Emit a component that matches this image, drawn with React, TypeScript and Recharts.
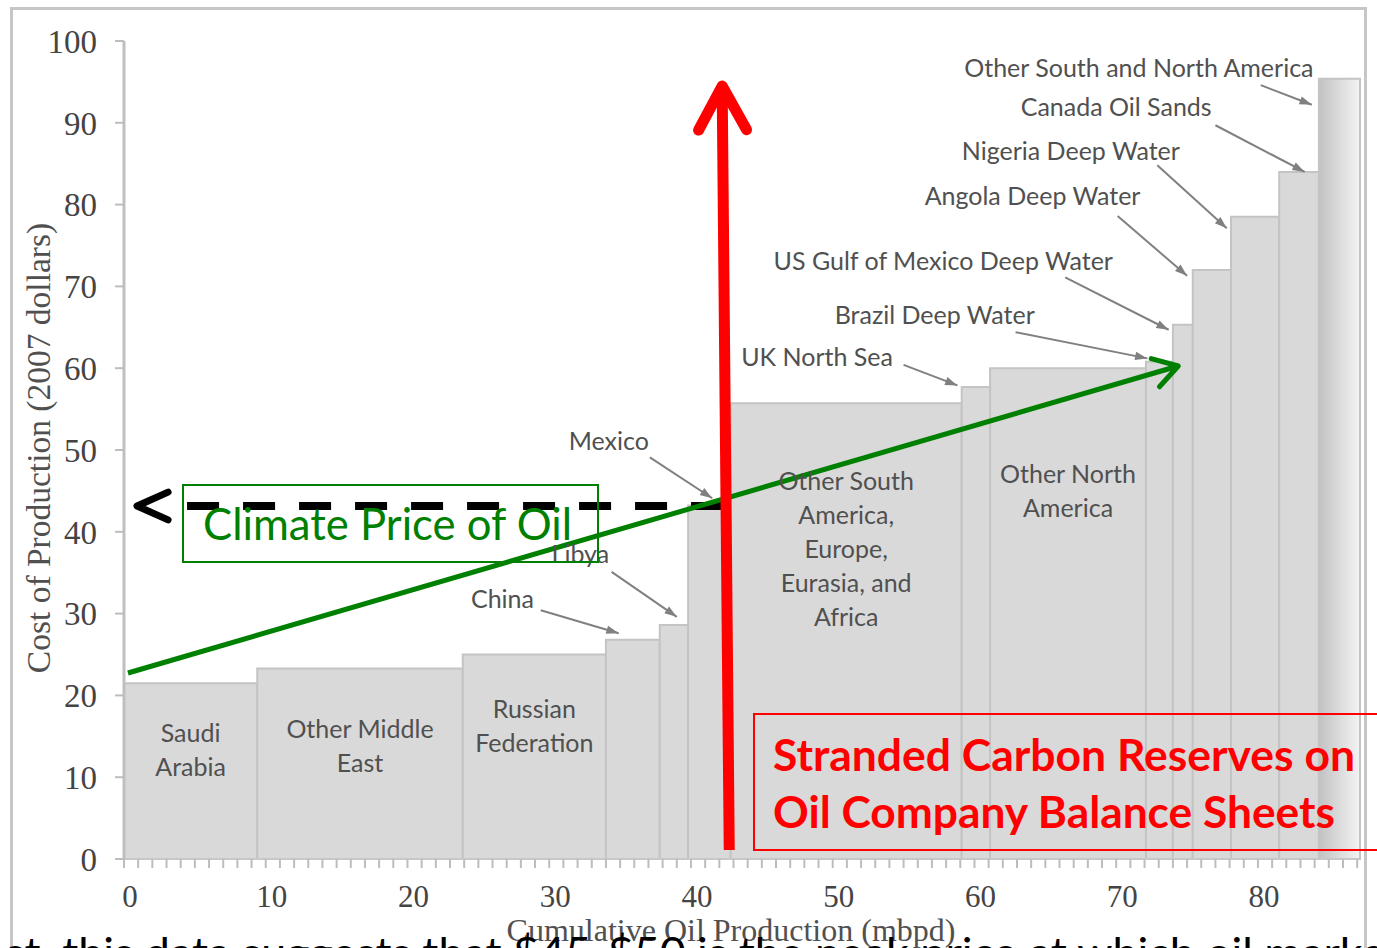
import { ComposedChart, XAxis, YAxis, Line, ReferenceArea, ReferenceLine, ReferenceDot } from 'recharts';

// #region Data
const producers = [
  'Saudi Arabia',
  'Other Middle East',
  'Russian Federation',
  'China',
  'Libya',
  'Mexico',
  'Other South America, Europe, Eurasia, and Africa',
  'UK North Sea',
  'Other North America',
  'Brazil Deep Water',
  'US Gulf of Mexico Deep Water',
  'Angola Deep Water',
  'Nigeria Deep Water',
  'Canada Oil Sands',
  'Other South and North America',
];
// production of each block, mbpd
const volumes = [9.4, 14.5, 10.1, 3.8, 2.0, 3.0, 16.3, 2.0, 11.0, 1.9, 1.4, 2.7, 3.4, 2.8, 2.9];
// cost of production, 2007 dollars
const costs = [21.5, 23.3, 25.0, 26.8, 28.6, 43.2, 55.7, 57.7, 60.0, 60.8, 65.3, 72.0, 78.5, 84.0, 95.4];

const yTicks = [0, 10, 20, 30, 40, 50, 60, 70, 80, 90, 100];
const xTicks = Array.from({ length: 88 }, (_, i) => i);

const climatePrice = 43.15;
// #endregion

const blocks = producers.map((name, i) => {
  const start = volumes.slice(0, i).reduce((a, b) => a + b, 0);
  return { name, start, end: start + volumes[i], x: start + volumes[i] / 2, cost: costs[i] };
});

// labels printed inside the wide blocks: [block index, lines, label height]
const blockLabels: [number, string[], number][] = [
  [0, ['Saudi', 'Arabia'], 13.4],
  [1, ['Other Middle', 'East'], 13.9],
  [2, ['Russian', 'Federation'], 16.4],
  [6, ['Other South', 'America,', 'Europe,', 'Eurasia, and', 'Africa'], 38.0],
  [8, ['Other North', 'America'], 45.1],
];

// callouts for the narrow blocks: text spot, arrow start, arrow tip
const callouts = [
  { label: 'Other South and North America', at: [71.6, 96.8], from: [80.2, 94.6], to: [83.8, 92.2] },
  { label: 'Canada Oil Sands', at: [70.0, 92.1], from: [77.0, 89.7], to: [83.3, 84.0] },
  { label: 'Nigeria Deep Water', at: [66.8, 86.7], from: [72.9, 84.8], to: [77.8, 77.1] },
  { label: 'Angola Deep Water', at: [64.1, 81.2], from: [70.1, 78.6], to: [75.0, 71.3] },
  { label: 'US Gulf of Mexico Deep Water', at: [57.8, 73.2], from: [66.4, 71.1], to: [73.7, 64.7] },
  { label: 'Brazil Deep Water', at: [57.2, 66.6], from: [62.9, 64.4], to: [72.2, 61.2] },
  { label: 'UK North Sea', at: [48.9, 61.5], from: [55.0, 60.4], to: [58.8, 57.9] },
  { label: 'Mexico', at: [34.2, 51.2], from: [37.1, 49.1], to: [41.5, 44.1] },
  { label: 'Libya', at: [32.2, 37.4], from: [34.4, 35.1], to: [39.0, 29.6] },
  { label: 'China', at: [26.7, 31.9], from: [29.4, 30.4], to: [34.9, 27.6] },
];

const SANS = 'Lato, "Open Sans", sans-serif';
const SERIF = '"Liberation Serif", "DejaVu Serif", serif';
const TEXT_GREY = '#505050';

type ArrowOpts = {
  color: string;
  width: number;
  head: number;
  spread: number;
  shaft?: boolean;
  filled?: boolean;
};

const arrowShape = ({ color, width, head, spread, shaft = true, filled = false }: ArrowOpts) =>
  (p: any) => {
    const { x1, y1, x2, y2 } = p;
    const ang = Math.atan2(y2 - y1, x2 - x1);
    const ax = x2 - head * Math.cos(ang - spread);
    const ay = y2 - head * Math.sin(ang - spread);
    const bx = x2 - head * Math.cos(ang + spread);
    const by = y2 - head * Math.sin(ang + spread);
    const pts = `${ax},${ay} ${x2},${y2} ${bx},${by}`;
    return (
      <g>
        {shaft && <line x1={x1} y1={y1} x2={x2} y2={y2} stroke={color} strokeWidth={width} />}
        {filled ? (
          <polygon points={pts} fill={color} />
        ) : (
          <polyline
            points={pts}
            fill="none"
            stroke={color}
            strokeWidth={width}
            strokeLinecap="round"
            strokeLinejoin="round"
          />
        )}
      </g>
    );
  };

const multiLine = (lines: string[]) => (p: any) => {
  const step = 34;
  const top = p.cy - ((lines.length - 1) * step) / 2;
  return (
    <text x={p.cx} textAnchor="middle" fontFamily={SANS} fontSize={25} fill={TEXT_GREY}>
      {lines.map((l, i) => (
        <tspan key={i} x={p.cx} y={top + i * step} dominantBaseline="central">
          {l}
        </tspan>
      ))}
    </text>
  );
};

export default function App() {
  return (
    <div
      style={{
        position: 'absolute',
        left: 0,
        top: 0,
        width: 1377,
        height: 948,
        overflow: 'hidden',
        background: '#fff',
      }}
    >
      <div
        style={{
          position: 'absolute',
          left: 10,
          top: 7,
          width: 1357,
          height: 1000,
          boxSizing: 'border-box',
          border: '3px solid #c6c6c6',
        }}
      />
      <div style={{ position: 'absolute', left: 0, top: 0 }}>
        <ComposedChart
          width={1377}
          height={948}
          data={blocks}
          margin={{ top: 41, right: 17, bottom: 0, left: 14 }}
        >
          <defs>
            <linearGradient id="lastBlock" x1="0" y1="0" x2="1" y2="0">
              <stop offset="0%" stopColor="#c2c2c2" />
              <stop offset="100%" stopColor="#f4f4f4" />
            </linearGradient>
          </defs>
          <XAxis
            type="number"
            dataKey="x"
            domain={[0, 87.2]}
            ticks={xTicks}
            interval={0}
            allowDataOverflow
            tickFormatter={(v: number) => (v % 10 === 0 ? String(v) : '')}
            height={89}
            tickSize={9}
            tickMargin={17}
            tick={{ fill: '#444', fontSize: 31, fontFamily: SERIF, dx: 6 }}
            axisLine={{ stroke: '#c8c8c8', strokeWidth: 2 }}
            tickLine={{ stroke: '#bdbdbd', strokeWidth: 2 }}
            label={{
              content: (p: any) => (
                <text
                  x={p.viewBox.x + p.viewBox.width / 2 - 11}
                  y={p.viewBox.y + 82}
                  textAnchor="middle"
                  fontFamily={SERIF}
                  fontSize={32}
                  fill={TEXT_GREY}
                >
                  Cumulative Oil Production (mbpd)
                </text>
              ),
            }}
          />
          <YAxis
            type="number"
            domain={[0, 100]}
            ticks={yTicks}
            interval={0}
            allowDataOverflow
            width={110}
            tickSize={9}
            tickMargin={18}
            tick={{ fill: '#444', fontSize: 33, fontFamily: SERIF }}
            axisLine={{ stroke: '#bfbfbf', strokeWidth: 3 }}
            tickLine={{ stroke: '#bdbdbd', strokeWidth: 2 }}
            label={{
              content: (p: any) => (
                <text
                  transform={`translate(${p.viewBox.x + 24},${p.viewBox.y + p.viewBox.height / 2 - 2}) rotate(-90)`}
                  textAnchor="middle"
                  dominantBaseline="central"
                  fontFamily={SERIF}
                  fontSize={33.5}
                  fill={TEXT_GREY}
                >
                  Cost of Production (2007 dollars)
                </text>
              ),
            }}
          />

          {/* carries the data into the chart; the blocks themselves are areas */}
          <Line
            dataKey="cost"
            stroke="none"
            dot={false}
            activeDot={false}
            legendType="none"
            isAnimationActive={false}
          />

          {blocks.map((b, i) => (
            <ReferenceArea
              key={b.name}
              x1={b.start}
              x2={b.end}
              y1={0}
              y2={b.cost}
              fill={i === blocks.length - 1 ? 'url(#lastBlock)' : '#d9d9d9'}
              fillOpacity={1}
              stroke="#c4c4c4"
              strokeWidth={2}
              ifOverflow="visible"
            />
          ))}

          {blockLabels.map(([idx, lines, y]) => (
            <ReferenceDot
              key={`bl-${idx}`}
              x={blocks[idx].x}
              y={y}
              ifOverflow="visible"
              shape={multiLine(lines)}
            />
          ))}

          {callouts.map((c) => (
            <ReferenceDot
              key={`ct-${c.label}`}
              x={c.at[0]}
              y={c.at[1]}
              ifOverflow="visible"
              shape={multiLine([c.label])}
            />
          ))}
          {callouts.map((c) => (
            <ReferenceLine
              key={`ca-${c.label}`}
              segment={[
                { x: c.from[0], y: c.from[1] },
                { x: c.to[0], y: c.to[1] },
              ]}
              ifOverflow="visible"
              shape={arrowShape({ color: '#808080', width: 2, head: 13, spread: 0.33, filled: true })}
            />
          ))}

          {/* climate price, dashed, with its arrowhead at the left */}
          <ReferenceLine
            segment={[
              { x: 4.45, y: climatePrice },
              { x: 42.3, y: climatePrice },
            ]}
            stroke="#000"
            strokeWidth={8}
            strokeDasharray="32 24"
            ifOverflow="visible"
          />
          <ReferenceLine
            segment={[
              { x: 3.3, y: climatePrice },
              { x: 0.92, y: climatePrice },
            ]}
            ifOverflow="visible"
            shape={arrowShape({ color: '#000', width: 7, head: 34, spread: 0.42, shaft: false })}
          />

          {/* trend */}
          <ReferenceLine
            segment={[
              { x: 0.28, y: 22.74 },
              { x: 74.38, y: 60.27 },
            ]}
            ifOverflow="visible"
            shape={arrowShape({ color: '#008000', width: 5, head: 28, spread: 0.55 })}
          />

          {/* stranded reserves */}
          <ReferenceLine
            segment={[
              { x: 42.7, y: 1.1 },
              { x: 42.2, y: 94.5 },
            ]}
            ifOverflow="visible"
            shape={arrowShape({ color: '#ff0000', width: 11, head: 50, spread: 0.5 })}
          />
        </ComposedChart>
      </div>

      <svg
        width={1377}
        height={948}
        style={{ position: 'absolute', left: 0, top: 0, pointerEvents: 'none' }}
      >
        <rect x={183} y={485} width={415} height={77} fill="none" stroke="#008000" strokeWidth={2} />
        <text
          x={203}
          y={540}
          fontFamily={SANS}
          fontSize={44}
          fill="#008000"
          textLength={369}
          lengthAdjust="spacingAndGlyphs"
        >
          Climate Price of Oil
        </text>

        <rect x={754} y={714} width={640} height={136} fill="none" stroke="#ff0000" strokeWidth={2} />
        <text
          x={773}
          y={771}
          fontFamily={SANS}
          fontWeight={700}
          fontSize={44}
          fill="#ff0000"
          textLength={582}
          lengthAdjust="spacingAndGlyphs"
        >
          Stranded Carbon Reserves on
        </text>
        <text
          x={773}
          y={828}
          fontFamily={SANS}
          fontWeight={700}
          fontSize={44}
          fill="#ff0000"
          textLength={562}
          lengthAdjust="spacingAndGlyphs"
        >
          Oil Company Balance Sheets
        </text>

        <text
          x={5}
          y={968}
          fontFamily={SANS}
          fontSize={42}
          fill="#000"
          textLength={1380}
          lengthAdjust="spacingAndGlyphs"
        >
          st, this data suggests that $45-$50 is the peak price at which oil marke
        </text>
      </svg>
    </div>
  );
}
